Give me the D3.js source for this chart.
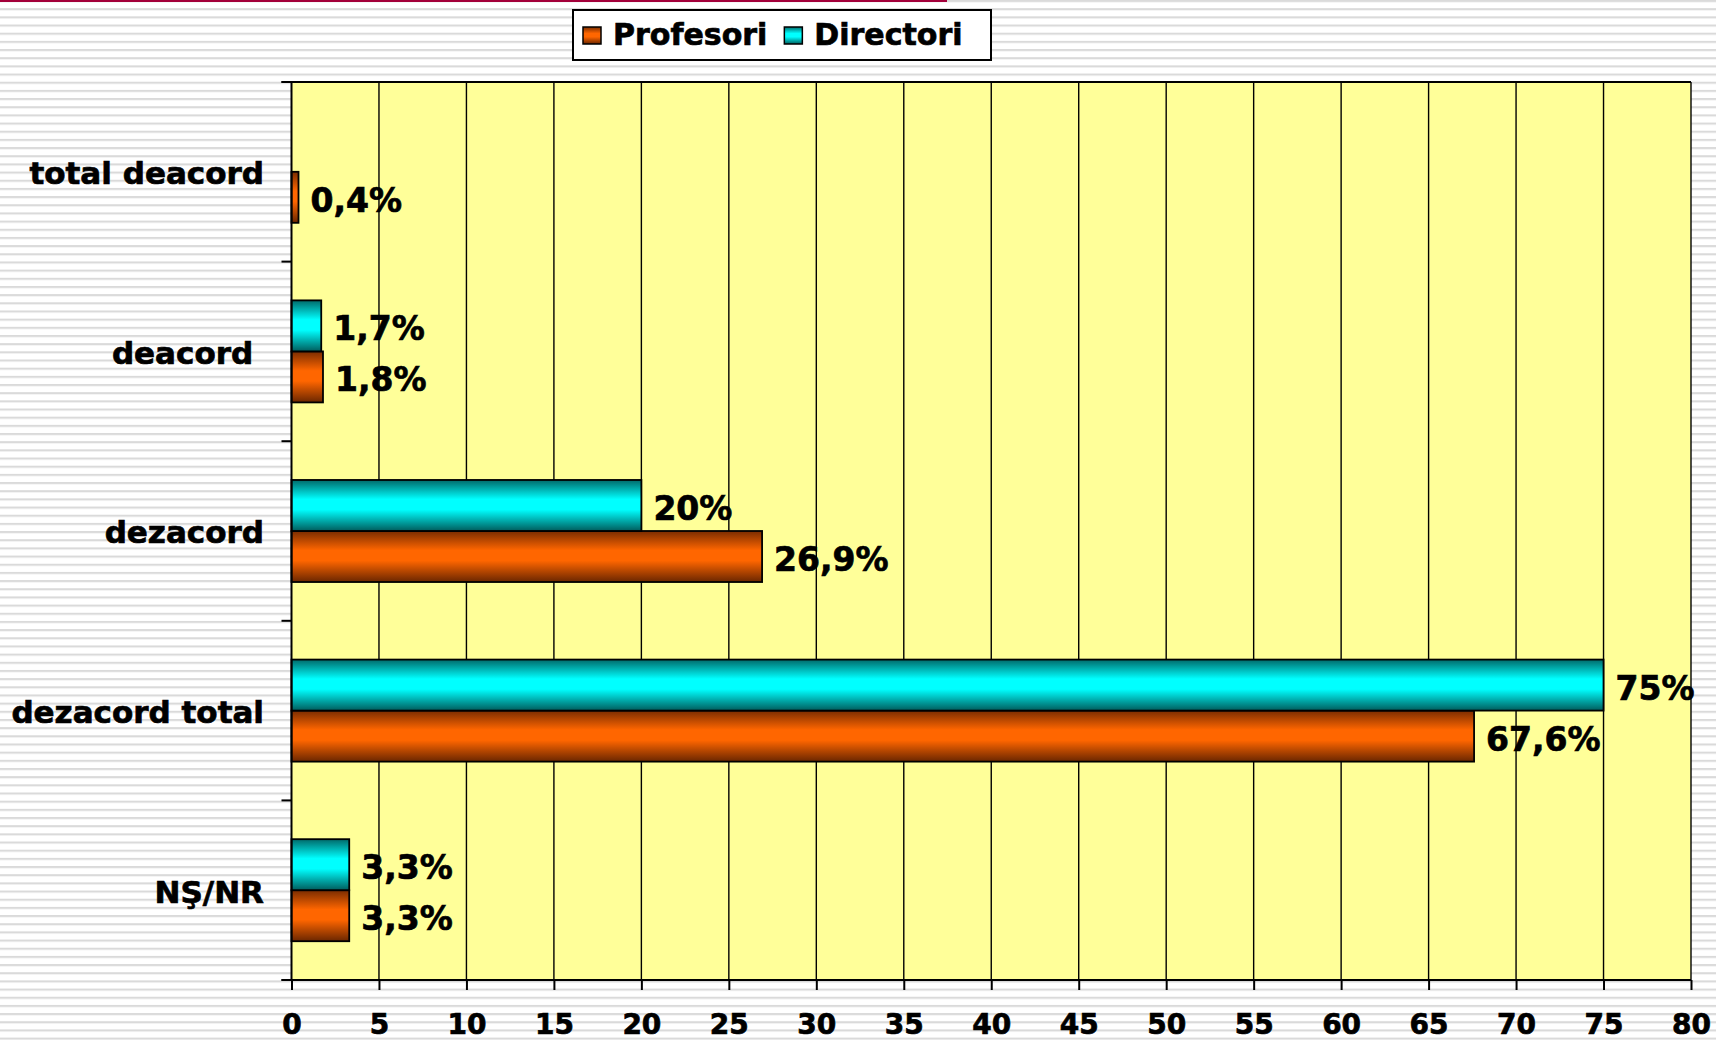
<!DOCTYPE html>
<html>
<head>
<meta charset="utf-8">
<script src="https://cdn.jsdelivr.net/npm/d3@7"></script>
<style>
  html, body { margin: 0; padding: 0; background: #fff; }
  svg { display: block; }
  text { font-family: "DejaVu Sans", Verdana, sans-serif; font-weight: bold; fill: #000; stroke: #000; stroke-width: 0.7px; }
</style>
</head>
<body>
<script>
// ---- data ----
const categories = ["total deacord", "deacord\u00a0", "dezacord", "dezacord total", "NŞ/NR"];
const seriesNames = ["Profesori", "Directori"];
const profesori = [0.4, 1.8, 26.9, 67.6, 3.3];
const directori = [null, 1.7, 20, 75, 3.3];
const xTicks = [0, 5, 10, 15, 20, 25, 30, 35, 40, 45, 50, 55, 60, 65, 70, 75, 80];

const W = 1716, H = 1040;
const plot = { left: 291.5, right: 1691, top: 82, bottom: 980 };

const svg = d3.select("body").append("svg").attr("width", W).attr("height", H);
const defs = svg.append("defs");

// striped background
const pat = defs.append("pattern").attr("id", "stripes")
  .attr("patternUnits", "userSpaceOnUse").attr("width", 8).attr("height", 8.17);
pat.append("rect").attr("width", 8).attr("height", 8.17).attr("fill", "#ffffff");
pat.append("rect").attr("y", 0).attr("width", 8).attr("height", 2.1).attr("fill", "#dadada");
svg.append("rect").attr("width", W).attr("height", H).attr("fill", "url(#stripes)");

// red line top
svg.append("rect").attr("x", 0).attr("y", 0).attr("width", 947).attr("height", 2).attr("fill", "#a3003a");

// gradients
function grad(id, dark1, mid, dark2) {
  const g = defs.append("linearGradient").attr("id", id).attr("x1", 0).attr("y1", 0).attr("x2", 0).attr("y2", 1);
  g.append("stop").attr("offset", "0%").attr("stop-color", dark1);
  g.append("stop").attr("offset", "38%").attr("stop-color", mid);
  g.append("stop").attr("offset", "58%").attr("stop-color", mid);
  g.append("stop").attr("offset", "100%").attr("stop-color", dark2);
}
grad("gProf", "#7a2c00", "#ff6600", "#6a2600");
grad("gDir", "#006a6a", "#00ffff", "#005c5c");
const fills = { Profesori: "url(#gProf)", Directori: "url(#gDir)" };

// scales
const x = d3.scaleLinear().domain([0, 80]).range([plot.left, plot.right]);
const y = d3.scaleBand().domain(categories).range([plot.top, plot.bottom]).padding(0);
const inner = d3.scaleBand().domain(["Directori", "Profesori"]).range([0, y.bandwidth()])
  .paddingInner(0).paddingOuter(0.76);

// plot area
svg.append("rect").attr("x", plot.left).attr("y", plot.top)
  .attr("width", plot.right - plot.left).attr("height", plot.bottom - plot.top)
  .attr("fill", "#ffff99");

// grid lines
svg.append("g").selectAll("line").data(xTicks.filter(d => d > 0)).join("line")
  .attr("x1", d => x(d)).attr("x2", d => x(d))
  .attr("y1", plot.top).attr("y2", plot.bottom)
  .attr("stroke", "#000").attr("stroke-width", 1.4);

// top border
svg.append("line").attr("x1", plot.left - 10).attr("x2", plot.right)
  .attr("y1", plot.top).attr("y2", plot.top).attr("stroke", "#000").attr("stroke-width", 2);

// bars
const rows = [];
categories.forEach((c, i) => {
  rows.push({ cat: c, s: "Profesori", v: profesori[i] });
  rows.push({ cat: c, s: "Directori", v: directori[i] });
});
const valid = rows.filter(d => d.v != null);
const fmt = v => String(v).replace(".", ",") + "%";

svg.append("g").selectAll("rect").data(valid).join("rect")
  .attr("x", x(0))
  .attr("y", d => y(d.cat) + inner(d.s))
  .attr("width", d => x(d.v) - x(0))
  .attr("height", inner.bandwidth())
  .attr("fill", d => fills[d.s])
  .attr("stroke", "#000").attr("stroke-width", 1.8);

svg.append("g").selectAll("text").data(valid).join("text")
  .attr("x", d => x(d.v) + 12)
  .attr("y", d => y(d.cat) + inner(d.s) + inner.bandwidth() / 2)
  .attr("dy", "0.44em")
  .style("font-size", "33px")
  .text(d => fmt(d.v));

// y axis
svg.append("line").attr("x1", plot.left).attr("x2", plot.left)
  .attr("y1", plot.top).attr("y2", plot.bottom).attr("stroke", "#000").attr("stroke-width", 2);
const bounds = categories.map(c => y(c)).concat([plot.bottom]);
svg.append("g").selectAll("line").data(bounds).join("line")
  .attr("x1", plot.left - 10).attr("x2", plot.left)
  .attr("y1", d => d).attr("y2", d => d)
  .attr("stroke", "#000").attr("stroke-width", 2);
svg.append("g").selectAll("text").data(categories).join("text")
  .attr("x", 264)
  .attr("y", d => y(d) + y.bandwidth() / 2)
  .attr("dy", "0.4em")
  .attr("text-anchor", "end")
  .style("font-size", "31px")
  .style("white-space", "pre")
  .text(d => d);

// x axis
const xAxis = d3.axisBottom(x).tickValues(xTicks).tickSize(10).tickPadding(24).tickFormat(d3.format("d"));
const gx = svg.append("g").attr("transform", `translate(0,${plot.bottom})`).call(xAxis);
gx.select(".domain").remove();
gx.selectAll(".tick line").attr("stroke", "#000").attr("stroke-width", 2);
gx.selectAll(".tick text").style("font-size", "28px").style("font-family", "DejaVu Sans")
  .style("font-weight", "bold").attr("fill", "#000").attr("stroke", "#000").attr("stroke-width", 0.7);
svg.append("line").attr("x1", plot.left - 10).attr("x2", plot.right)
  .attr("y1", plot.bottom).attr("y2", plot.bottom).attr("stroke", "#000").attr("stroke-width", 2);

// legend
const lg = svg.append("g");
lg.append("rect").attr("x", 573).attr("y", 10).attr("width", 418).attr("height", 50)
  .attr("fill", "#fff").attr("stroke", "#000").attr("stroke-width", 2);
let lx = 583;
seriesNames.forEach(s => {
  lg.append("rect").attr("x", lx).attr("y", 27).attr("width", 18).attr("height", 17)
    .attr("fill", fills[s]).attr("stroke", "#000").attr("stroke-width", 1.5);
  const t = lg.append("text").attr("x", lx + 30).attr("y", 45).style("font-size", "30px").text(s);
  lx = lx + 30 + t.node().getComputedTextLength() + 17;
});
</script>
</body>
</html>
